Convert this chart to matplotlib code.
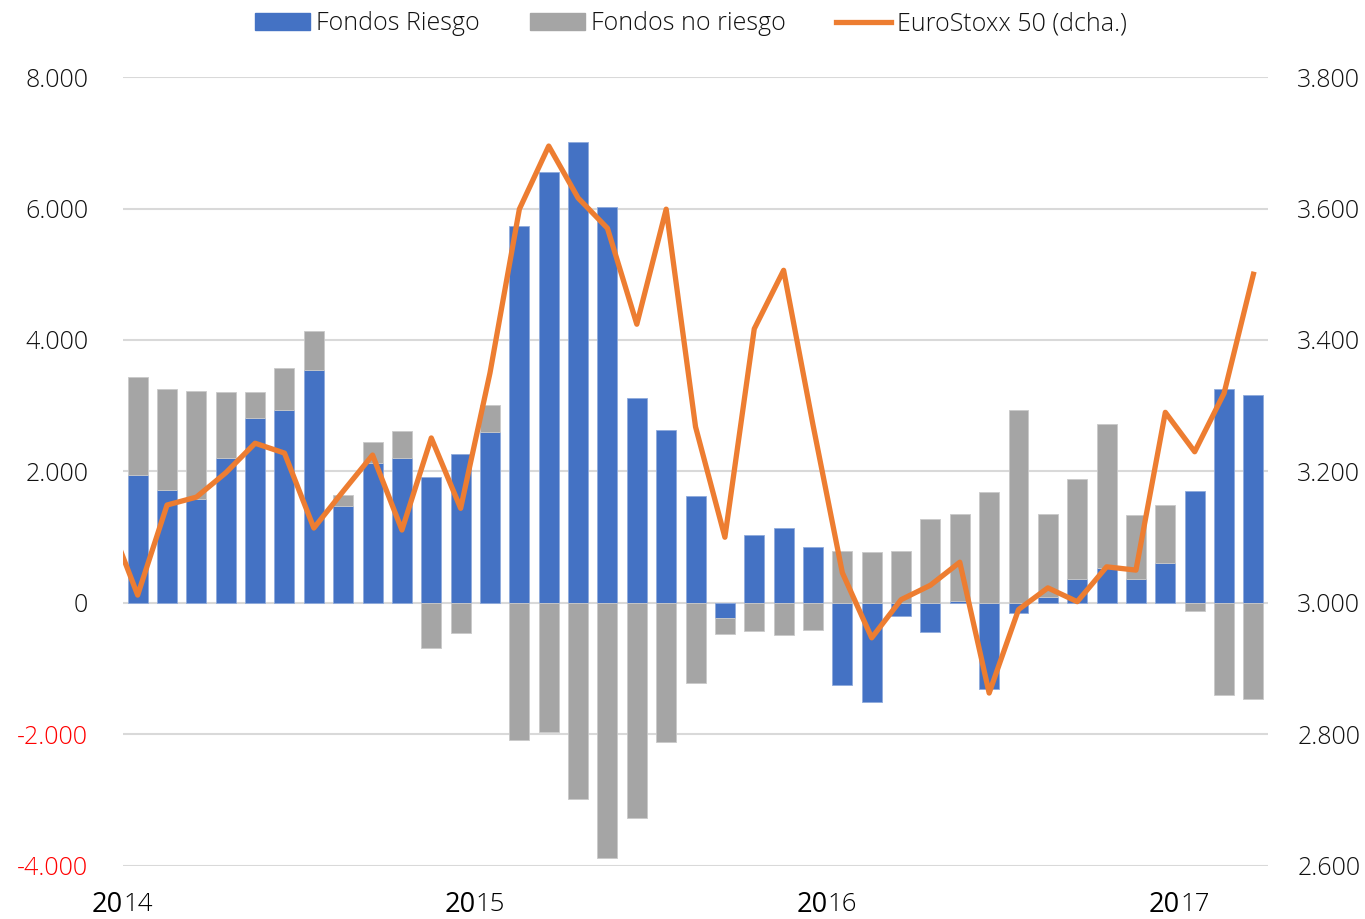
import numpy as np
import matplotlib
matplotlib.use("Agg")
from matplotlib import pyplot as plt
from matplotlib.patches import Patch
from matplotlib.lines import Line2D

# monthly flows, Jan 2014 .. Mar 2017
riesgo = [1947, 1719, 1582, 2205, 2819, 2940, 3544, 1480, 2134, 2210, 1921, 2266,
          2605, 5734, 6555, 7011, 6027, 3113, 2631, 1627, -223, 1040, 1140, 852,
          -1247, -1506, -198, -446, 35, -1303, -147, 96, 365, 537, 360, 604,
          1703, 3255, 3163]
no_riesgo = [1485, 1536, 1647, 1009, 390, 629, 598, 163, 319, 411, -689, -452,
             406, -2084, -1967, -2986, -3883, -3270, -2114, -1217, -248, -431, -482, -416,
             796, 776, 791, 1273, 1319, 1688, 2935, 1253, 1516, 2181, 974, 882,
             -122, -1404, -1455]
# EuroStoxx 50, starting Dec 2013
eurostoxx = [3128, 3012, 3149, 3161, 3198, 3243, 3228, 3114, 3170, 3225, 3111, 3251, 3144,
             3350, 3599, 3695, 3616, 3570, 3424, 3599, 3268, 3100, 3417, 3506, 3271,
             3046, 2947, 3005, 3027, 3062, 2863, 2990, 3023, 3002, 3055, 3050, 3290,
             3230, 3319, 3500]
years = ["14", "15", "16", "17"]

BLUE = "#4472C4"
GRAY = "#A5A5A5"
ORANGE = "#ED7D31"
TXT = "#111111"

plt.rcParams['font.family'] = ['Open Sans', 'DejaVu Sans']
plt.rcParams['font.weight'] = 300

riesgo = np.array(riesgo)
no_riesgo = np.array(no_riesgo)
x = np.arange(len(riesgo))

fig = plt.figure(figsize=(13.65, 9.19), dpi=100)
ax = fig.add_axes([0.0901, 0.0577, 0.929 - 0.0901, 0.9162 - 0.0577])

w = 0.68
ax.bar(x, riesgo, w, color=BLUE, edgecolor="#8FAADC", linewidth=0.6, zorder=2)
bottom = np.where(no_riesgo >= 0, np.maximum(riesgo, 0), np.minimum(riesgo, 0))
ax.bar(x, no_riesgo, w, bottom=bottom, color=GRAY, edgecolor="#C9C9C9", linewidth=0.6, zorder=2)

ax.set_xlim(-0.5, len(riesgo) - 0.5)
ax.set_ylim(-4000, 8000)
ax.set_yticks(range(-4000, 8001, 2000))
ax.set_yticklabels(["-4.000", "-2.000", "0", "2.000", "4.000", "6.000", "8.000"])
ax.grid(axis="y", color="#D9D9D9", linewidth=1.5)
ax.set_axisbelow(True)
ax.set_xticks([])
for s in ax.spines.values():
    s.set_visible(False)
ax.tick_params(axis="y", length=0, pad=25, labelsize=18, labelcolor=TXT)
for lab in ax.get_yticklabels()[:2]:
    lab.set_color("red")

ax2 = ax.twinx()
ax2.plot(np.arange(-1, len(riesgo)), eurostoxx, color=ORANGE, linewidth=3.8,
         solid_joinstyle="round", zorder=3)
ax2.set_ylim(2600, 3800)
ax2.set_yticks(range(2600, 3801, 200))
ax2.set_yticklabels(["2.600", "2.800", "3.000", "3.200", "3.400", "3.600", "3.800"])
ax2.tick_params(axis="y", length=0, pad=21, labelsize=18, labelcolor=TXT)
for s in ax2.spines.values():
    s.set_visible(False)
ax2.set_xlim(-0.5, len(riesgo) - 0.5)

# year labels: "20" heavier and slightly larger, last two digits light
for i, yy in enumerate(years):
    xp = 12 * i - 0.5
    ax.text(xp, -4590, "20", ha="right", va="center", fontsize=19.5,
            fontweight=500, color="black")
    ax.text(xp, -4590, yy, ha="left", va="center", fontsize=18.5, color="black")

handles = [Patch(facecolor=BLUE, edgecolor=BLUE, label="Fondos Riesgo"),
           Patch(facecolor=GRAY, edgecolor=GRAY, label="Fondos no riesgo"),
           Line2D([], [], color=ORANGE, linewidth=3.8, label="EuroStoxx 50 (dcha.)")]
fig.legend(handles=handles, loc="upper center", bbox_to_anchor=(0.506, 1.012), ncol=3,
           frameon=False, fontsize=18, handlelength=2.2, handletextpad=0.25,
           columnspacing=2.0, labelcolor=TXT)

fig.savefig("out.png", dpi=100)
